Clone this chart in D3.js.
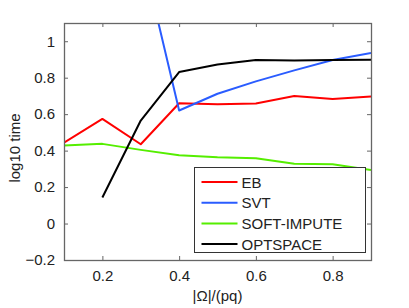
<!DOCTYPE html>
<html>
<head>
<meta charset="utf-8">
<script src="https://cdn.jsdelivr.net/npm/d3@7"></script>
<style>
  body { margin: 0; background: #fff; }
  text { font-family: "Liberation Sans", Arial, sans-serif; }
</style>
</head>
<body>
<div id="chart"></div>
<script>
// data
const xs = [0.1, 0.2, 0.3, 0.4, 0.5, 0.6, 0.7, 0.8, 0.9];
const eb = [0.444, 0.574, 0.435, 0.66, 0.655, 0.659, 0.70, 0.683, 0.697];
const svt = [null, null, 1.51, 0.62, 0.712, 0.78, 0.84, 0.897, 0.936];
const softImpute = [0.428, 0.437, 0.404, 0.374, 0.363, 0.358, 0.328, 0.325, 0.294];
const optspace = [null, 0.143, 0.565, 0.831, 0.872, 0.897, 0.894, 0.897, 0.899];
const seriesNames = ['EB', 'SVT', 'SOFT-IMPUTE', 'OPTSPACE'];
const seriesColors = ['#ff0000', '#2a5cff', '#55ee00', '#000000'];
const xTicks = [0.2, 0.4, 0.6, 0.8];
const yTicks = [-0.2, 0, 0.2, 0.4, 0.6, 0.8, 1];

const width = 409, height = 308;
const margin = { top: 23, right: 38, bottom: 48, left: 64 };
const axisColor = '#666';

const svg = d3.select('#chart').append('svg')
  .attr('width', width)
  .attr('height', height);

const x = d3.scaleLinear().domain([0.1, 0.9]).range([margin.left, width - margin.right]);
const y = d3.scaleLinear().domain([-0.2, 1.1]).range([height - margin.bottom, margin.top]);

svg.append('clipPath').attr('id', 'clip')
  .append('rect')
    .attr('x', margin.left).attr('y', margin.top)
    .attr('width', x.range()[1] - margin.left)
    .attr('height', y.range()[0] - margin.top);

// lines
const all = [eb, svt, softImpute, optspace];
const line = d3.line()
  .defined(d => d[1] != null)
  .x(d => x(d[0]))
  .y(d => y(d[1]));

const plot = svg.append('g').attr('clip-path', 'url(#clip)');
all.forEach((vals, i) => {
  plot.append('path')
    .datum(xs.map((v, j) => [v, vals[j]]))
    .attr('fill', 'none')
    .attr('stroke', seriesColors[i])
    .attr('stroke-width', 2)
    .attr('stroke-linejoin', 'round')
    .attr('d', line);
});

// axes, ticks inward on all four sides
function styleAxis(g) {
  g.select('.domain').remove();
  g.selectAll('.tick line').attr('stroke', axisColor);
  g.selectAll('.tick text').attr('fill', '#222').style('font-size', '15px')
    .style('font-family', '"Liberation Sans", Arial, sans-serif');
}
const x0 = margin.left, x1 = width - margin.right;
const y0 = height - margin.bottom, y1 = margin.top;

svg.append('g').attr('transform', `translate(0,${y0})`)
  .call(d3.axisBottom(x).tickValues(xTicks).tickFormat(d3.format('')).tickSize(-4).tickPadding(10))
  .call(styleAxis);
svg.append('g').attr('transform', `translate(0,${y1})`)
  .call(d3.axisTop(x).tickValues(xTicks).tickSize(-4).tickFormat(''))
  .call(styleAxis);
svg.append('g').attr('transform', `translate(${x0},0)`)
  .call(d3.axisLeft(y).tickValues(yTicks).tickFormat(d3.format('')).tickSize(-4).tickPadding(9))
  .call(styleAxis);
svg.append('g').attr('transform', `translate(${x1},0)`)
  .call(d3.axisRight(y).tickValues(yTicks).tickSize(-4).tickFormat(''))
  .call(styleAxis);

svg.append('rect')
  .attr('x', x0 + 0.5).attr('y', y1 + 0.5)
  .attr('width', x1 - x0).attr('height', y0 - y1)
  .attr('fill', 'none')
  .attr('stroke', axisColor)
  .attr('stroke-width', 1.3);

// axis labels
svg.append('text')
  .attr('x', (x0 + x1) / 2).attr('y', 301)
  .attr('text-anchor', 'middle')
  .style('font-size', '15px')
  .attr('fill', '#222')
  .text('|Ω|/(pq)');

svg.append('text')
  .attr('transform', 'translate(20,148) rotate(-90)')
  .attr('text-anchor', 'middle')
  .style('font-size', '15px')
  .attr('fill', '#222')
  .text('log10 time');

// legend
const lg = svg.append('g');
lg.append('rect')
  .attr('x', 194.5).attr('y', 167.5)
  .attr('width', 171).attr('height', 85)
  .attr('fill', '#fff')
  .attr('stroke', '#333')
  .attr('stroke-width', 1);

seriesNames.forEach((name, i) => {
  const ly = 182 + i * 20.7;
  lg.append('line')
    .attr('x1', 201.5).attr('x2', 237.5)
    .attr('y1', ly).attr('y2', ly)
    .attr('stroke', seriesColors[i])
    .attr('stroke-width', 2);
  lg.append('text')
    .attr('x', 241.5).attr('y', ly + 5.5)
    .style('font-size', '15px')
    .attr('fill', '#222')
    .text(name);
});
</script>
</body>
</html>
